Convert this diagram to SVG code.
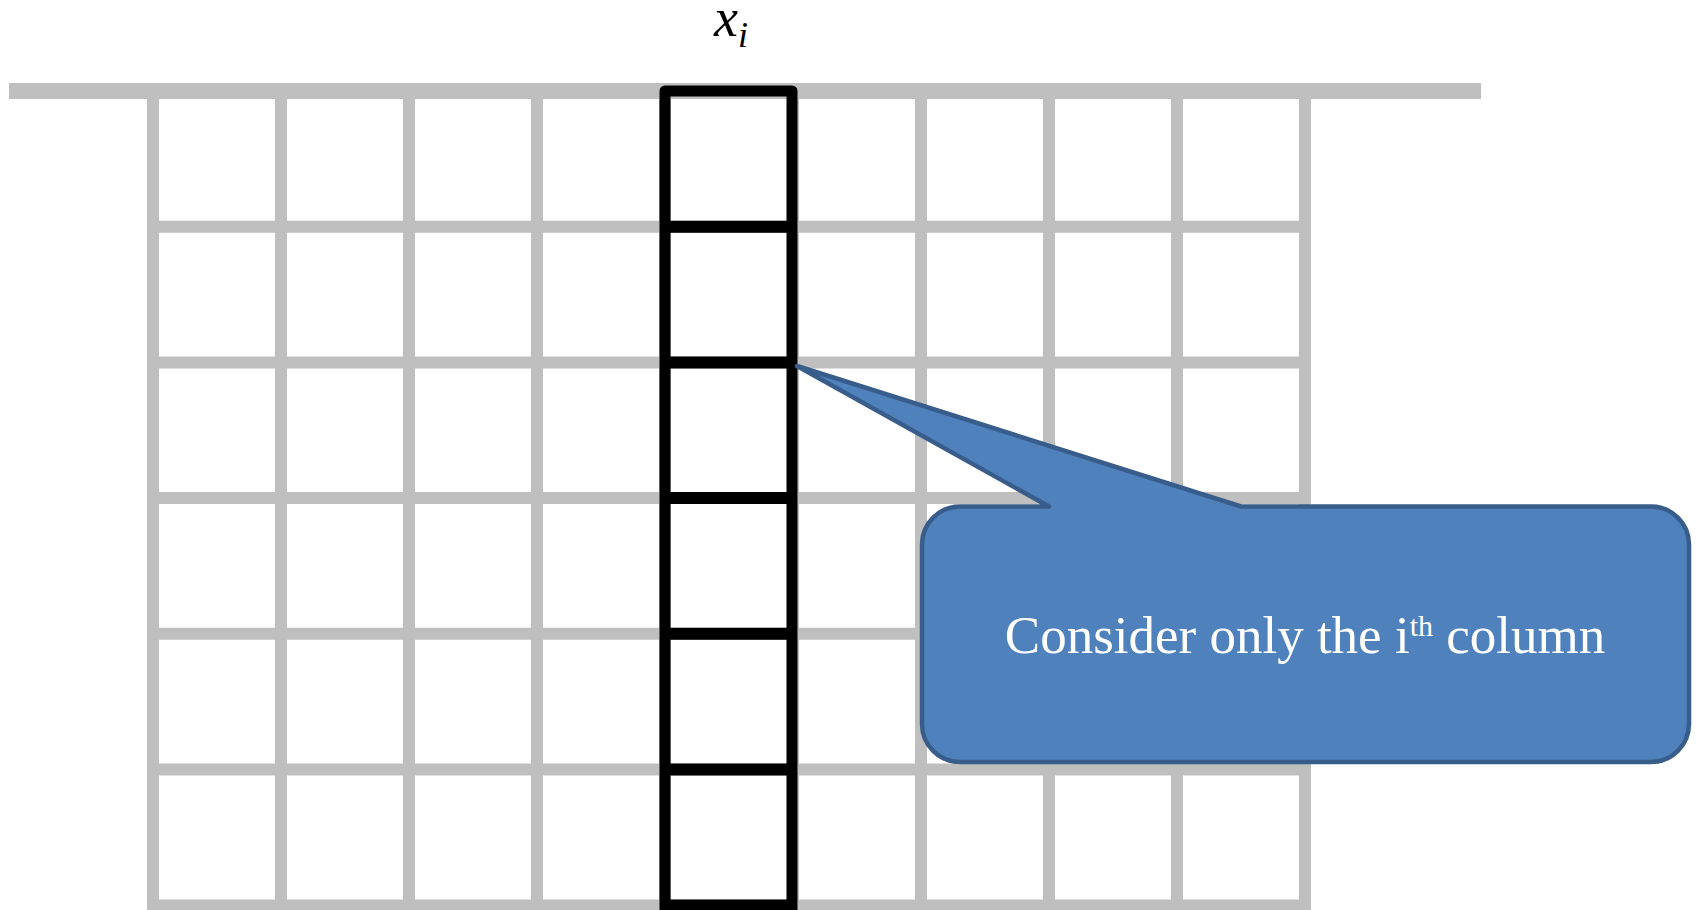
<svg xmlns="http://www.w3.org/2000/svg" width="1699" height="910" viewBox="0 0 1699 910">
  <style>
    .gray { stroke: #BFBFBF; stroke-width: 12; fill: none; }
    .black { stroke: #000000; stroke-width: 11; fill: none; stroke-linejoin: round; }
    .callout { fill: #4F81BD; stroke: #385D8A; stroke-width: 4.5; stroke-linejoin: round; }
    .ctext { font-family: "Liberation Serif", "Times New Roman", serif; font-size: 53px; fill: #FFFFFF; }
    .math { font-family: "Liberation Serif", "Times New Roman", serif; font-style: italic; fill: #000000; }
  </style>
  <rect width="1699" height="910" fill="#FFFFFF"/>

  <g id="grid">
    <line class="gray" x1="9" y1="91" x2="1481" y2="91" style="stroke-width:16"/>
    <path class="gray" d="M153 99V915 M281 99V915 M409 99V915 M537 99V915 M665 99V915 M793 99V915 M921 99V915 M1049 99V915 M1177 99V915 M1305 99V915"/>
    <path class="gray" d="M147 226.7H1311 M147 362.4H1311 M147 498.1H1311 M147 633.8H1311 M147 769.5H1311 M147 905.5H1311"/>
  </g>

  <g id="column">
    <path class="black" d="M665 915V91H792V915"/>
    <path class="black" style="stroke-width:12" d="M665 226.7H792 M665 362.4H792 M665 498.1H792 M665 633.8H792 M665 769.5H792 M665 905.5H792"/>
  </g>

  <g id="label-xi">
    <text class="math" x="714" y="36" font-size="54">x<tspan font-size="36" dy="11">i</tspan></text>
  </g>

  <g id="callout">
    <path class="callout" d="M960 506.5 H1049 L797 366 L1241 506.5 H1651 A38 38 0 0 1 1689 544.5 V724 A38 38 0 0 1 1651 762 H960 A38 38 0 0 1 922 724 V544.5 A38 38 0 0 1 960 506.5 Z"/>
    <text class="ctext" x="1305" y="653" text-anchor="middle">Consider only the i<tspan font-size="30" dy="-17">th</tspan><tspan dy="17"> column</tspan></text>
  </g>
</svg>
